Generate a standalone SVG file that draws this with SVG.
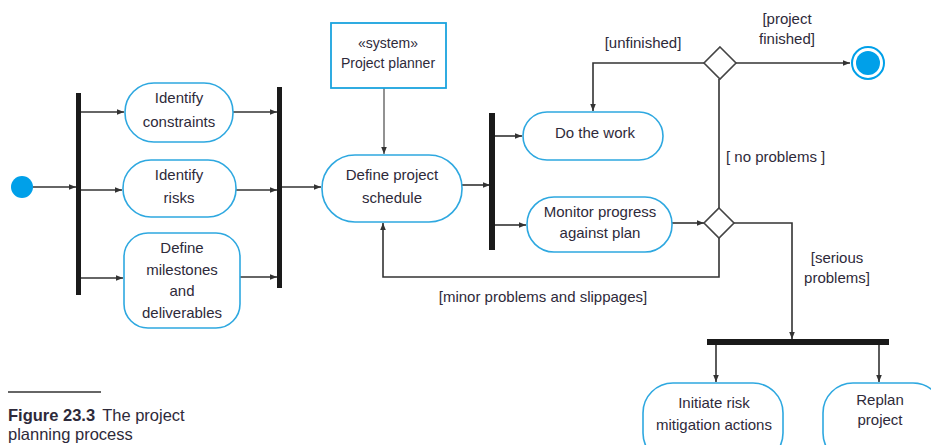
<svg xmlns="http://www.w3.org/2000/svg" width="931" height="445" viewBox="0 0 931 445">
<defs>
<marker id="ah" viewBox="0 0 10 10" refX="10" refY="5" markerWidth="7" markerHeight="7" markerUnits="userSpaceOnUse" orient="auto"><path d="M0,1 L10,5 L0,9 Z" fill="#333"/></marker>
</defs>
<style>
.act{fill:#fff;stroke:#2ea8e0;stroke-width:1.6}
.sys{fill:#fff;stroke:#1aa3de;stroke-width:1.8}
.bar{fill:#1a1a1a}
.c{fill:none;stroke:#333;stroke-width:1.6}
.a{marker-end:url(#ah)}
.g{stroke:#777}
text{font-family:"Liberation Sans","Arial",sans-serif;font-size:15px;fill:#2e2a3a}
.m{text-anchor:middle}
.dia{fill:#fff;stroke:#444;stroke-width:1.6}
.cap{font-size:16.5px}
</style>
<rect width="931" height="445" fill="#fff"/>
<g id="connectors">
<path class="c a" d="M33,187 H76"/>
<path class="c a" d="M80,112 H124"/>
<path class="c a" d="M80,190 H122"/>
<path class="c a" d="M80,278 H123"/>
<path class="c a" d="M233,112 H277"/>
<path class="c a" d="M236,190 H277"/>
<path class="c a" d="M240,277 H277"/>
<path class="c a" d="M281,187 H321"/>
<path class="c a g" d="M384,88 V154"/>
<path class="c a" d="M462,185 H490"/>
<path class="c a" d="M494,136 H522"/>
<path class="c a" d="M494,225 H526"/>
<path class="c a" d="M672,223 H704"/>
<path class="c" d="M719,208 V79"/>
<path class="c a" d="M704,63 H593 V111"/>
<path class="c a" d="M736,63 H850"/>
<path class="c a" d="M719,238 V277 H383 V223"/>
<path class="c a" d="M734,223 H792 V339"/>
<path class="c a" d="M716,345 V382"/>
<path class="c a" d="M879,345 V382"/>
</g>
<g id="start"><circle cx="22" cy="187" r="11" fill="#00a0e9"/></g>
<g id="fork1"><rect class="bar" x="76" y="93" width="5" height="202"/></g>
<g id="join1"><rect class="bar" x="277" y="87" width="5" height="201"/></g>
<g id="fork2"><rect class="bar" x="489" y="113" width="6" height="137"/></g>
<g id="fork3"><rect class="bar" x="707" y="339" width="182" height="6"/></g>
<g id="identify-constraints"><rect class="act" x="125" y="83" width="108" height="59" rx="29"/><text class="m" x="179" y="103">Identify</text><text class="m" x="179" y="127">constraints</text></g>
<g id="identify-risks"><rect class="act" x="123" y="160" width="113" height="57" rx="28"/><text class="m" x="179" y="180">Identify</text><text class="m" x="179" y="203">risks</text></g>
<g id="define-milestones"><rect class="act" x="124" y="233" width="116" height="95" rx="24"/><text class="m" x="182" y="253">Define</text><text class="m" x="182" y="275">milestones</text><text class="m" x="182" y="296">and</text><text class="m" x="182" y="318">deliverables</text></g>
<g id="project-planner"><rect class="sys" x="331" y="23" width="115" height="65"/><text class="m" x="388" y="48" style="font-size:14px">«system»</text><text class="m" x="388" y="68" style="font-size:14px">Project planner</text></g>
<g id="define-schedule"><rect class="act" x="322" y="155" width="140" height="67" rx="33"/><text class="m" x="392" y="180">Define project</text><text class="m" x="392" y="203">schedule</text></g>
<g id="do-work"><rect class="act" x="523" y="112" width="140" height="48" rx="24"/><text class="m" x="595" y="138">Do the work</text></g>
<g id="monitor"><rect class="act" x="527" y="197" width="145" height="55" rx="27"/><text class="m" x="600" y="217">Monitor progress</text><text class="m" x="600" y="238">against plan</text></g>
<g id="decision-top"><path class="dia" d="M720,47 L736,63 L720,79 L704,63 Z"/></g>
<g id="decision-mid"><path class="dia" d="M719,208 L734,223 L719,238 L704,223 Z"/></g>
<g id="end"><circle cx="868" cy="63" r="16" fill="#fff" stroke="#00a0e9" stroke-width="2"/><circle cx="868" cy="63" r="12" fill="#00a0e9"/></g>
<g id="initiate-risk"><rect class="act" x="643" y="383" width="140" height="80" rx="30"/><text class="m" x="714" y="408">Initiate risk</text><text class="m" x="714" y="430">mitigation actions</text></g>
<g id="replan"><rect class="act" x="823" y="383" width="120" height="80" rx="30"/><text class="m" x="880" y="405">Replan</text><text class="m" x="880" y="425">project</text></g>
<g id="labels">
<text class="m" x="643" y="48">[unfinished]</text>
<text class="m" x="787" y="24">[project</text>
<text class="m" x="787" y="44">finished]</text>
<text x="726" y="162">[ no problems ]</text>
<text class="m" x="543" y="302">[minor problems and slippages]</text>
<text class="m" x="837" y="263">[serious</text>
<text class="m" x="837" y="283">problems]</text>
</g>
<g id="caption">
<line x1="8" y1="392" x2="101" y2="392" stroke="#333" stroke-width="1.5"/>
<text class="cap" x="8" y="421"><tspan font-weight="bold">Figure 23.3</tspan><tspan dx="7">The project</tspan></text>
<text class="cap" x="8" y="440">planning process</text>
</g>
</svg>
